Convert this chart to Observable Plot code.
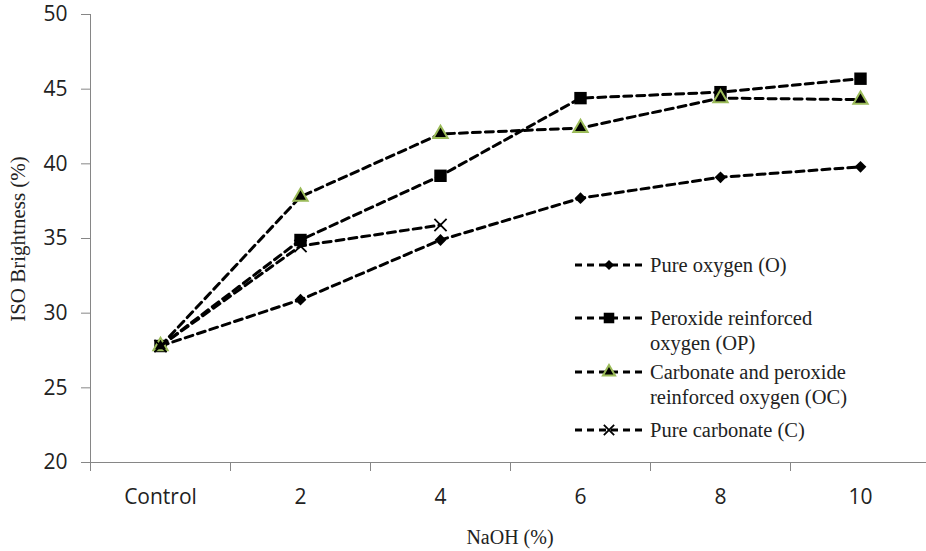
<!DOCTYPE html>
<html>
<head>
<meta charset="utf-8">
<script src="https://cdn.jsdelivr.net/npm/d3@7"></script>
<script src="https://cdn.jsdelivr.net/npm/@observablehq/plot@0.6"></script>
<style>
  html, body { margin: 0; padding: 0; background: #fff; }
  #chart { width: 926px; height: 551px; }
  .serif { font-family: "Liberation Serif", "Times New Roman", "DejaVu Serif", serif; }
</style>
</head>
<body>
<div id="chart"></div>
<script>
const categories = ["Control", "2", "4", "6", "8", "10"];
const seriesNames = [
  "Pure oxygen (O)",
  "Peroxide reinforced oxygen (OP)",
  "Carbonate and peroxide reinforced oxygen (OC)",
  "Pure carbonate (C)"
];
const legendLines = [
  ["Pure oxygen (O)"],
  ["Peroxide reinforced", "oxygen (OP)"],
  ["Carbonate and peroxide", "reinforced oxygen (OC)"],
  ["Pure carbonate (C)"]
];
const pureOxygen        = [27.8, 30.9, 34.9, 37.7, 39.1, 39.8];
const peroxideOxygen    = [27.8, 34.9, 39.2, 44.4, 44.8, 45.7];
const carbonatePeroxide = [27.8, 37.8, 42.0, 42.4, 44.4, 44.3];
const pureCarbonate     = [27.8, 34.5, 35.9];
const yTicks = [20, 25, 30, 35, 40, 45, 50];
const yLabel = "ISO Brightness (%)";
const xLabel = "NaOH (%)";

const allValues = [pureOxygen, peroxideOxygen, carbonatePeroxide, pureCarbonate];
const styles = [
  {symbol: "diamond2", fill: "#000", stroke: "none", r: 5.3, sw: 0},
  {symbol: "square", fill: "#000", stroke: "none", r: 7, sw: 0},
  {symbol: "triangle", fill: "#000", stroke: "#9BBB59", r: 5.3, sw: 2},
  {symbol: "times", fill: "none", stroke: "#000", r: 5.6, sw: 1.8}
];
const data = allValues.map((vals, s) => vals.map((v, i) => ({series: seriesNames[s], idx: i, value: v})));

const dash = "8,5";
const marks = [];
marks.push(Plot.ruleX([-0.5], {stroke: "#868686", strokeWidth: 1}));
marks.push(Plot.ruleY([20], {stroke: "#868686", strokeWidth: 1}));
marks.push(Plot.axisY({ticks: yTicks, tickSize: 9, tickPadding: 14, stroke: "#868686", fill: "#222",
  fontSize: 21, fontFamily: "Open Sans", label: null, tickFormat: d => d}));
marks.push(Plot.axisX({ticks: d3.range(-0.5, 6, 1), tickSize: 9, stroke: "#868686", tickFormat: () => "", label: null}));
marks.push(Plot.axisX({ticks: d3.range(0, 6), tickSize: 0, tickPadding: 27, fill: "#222",
  fontSize: 21, fontFamily: "Open Sans", tickFormat: i => categories[i], label: null}));

data.forEach((d, s) => {
  const st = styles[s];
  marks.push(Plot.line(d, {x: "idx", y: "value", stroke: "#000", strokeWidth: 3, strokeDasharray: dash}));
  marks.push(Plot.dot(d, {x: "idx", y: "value", symbol: () => st.symbol, r: st.r, fill: st.fill, stroke: st.stroke, strokeWidth: st.sw}));
});

const chart = Plot.plot({
  width: 926,
  height: 551,
  marginLeft: 90,
  marginRight: 0,
  marginTop: 14,
  marginBottom: 89,
  style: {background: "#fff", overflow: "hidden"},
  x: {type: "linear", domain: [-0.5, 5.5], range: [90, 930]},
  y: {domain: [20, 50]},
  symbol: {type: "identity"},
  marks
});
document.getElementById("chart").appendChild(chart);

const svg = d3.select(chart);
// Axis titles
svg.append("text").attr("class", "serif").attr("x", 510).attr("y", 537).attr("dy", "0.35em")
  .attr("text-anchor", "middle").attr("font-size", 20)
  .attr("fill", "#222").text(xLabel);
svg.append("text").attr("class", "serif").attr("transform", "translate(18,239) rotate(-90)").attr("dy", "0.35em")
  .attr("text-anchor", "middle").attr("font-size", 21)
  .attr("fill", "#222").text(yLabel);

// Legend inside the plot area
const legendRows = [265, 318, 372, 430];
const lg = svg.append("g").attr("class", "legend").attr("text-anchor", "start");
const typeMap = {diamond2: d3.symbolDiamond2, square: d3.symbolSquare, triangle: d3.symbolTriangle, times: d3.symbolTimes};
legendLines.forEach((lines, s) => {
  const st = styles[s];
  const y = legendRows[s];
  const g = lg.append("g");
  g.append("line").attr("x1", 575).attr("x2", 643).attr("y1", y).attr("y2", y)
    .attr("stroke", "#000").attr("stroke-width", 3).attr("stroke-dasharray", "7,5");
  const sz = Math.PI * Math.pow(st.r * 0.85, 2);
  g.append("path").attr("d", d3.symbol(typeMap[st.symbol], sz)())
    .attr("transform", `translate(609,${y})`)
    .attr("fill", st.fill).attr("stroke", st.stroke).attr("stroke-width", st.sw);
  lines.forEach((t, k) => {
    g.append("text").attr("class", "serif").attr("x", 650).attr("y", y + k * 25).attr("dy", "0.35em")
      .attr("text-anchor", "start")
      .attr("font-size", 20.5).attr("fill", "#222").text(t);
  });
});
</script>
</body>
</html>
